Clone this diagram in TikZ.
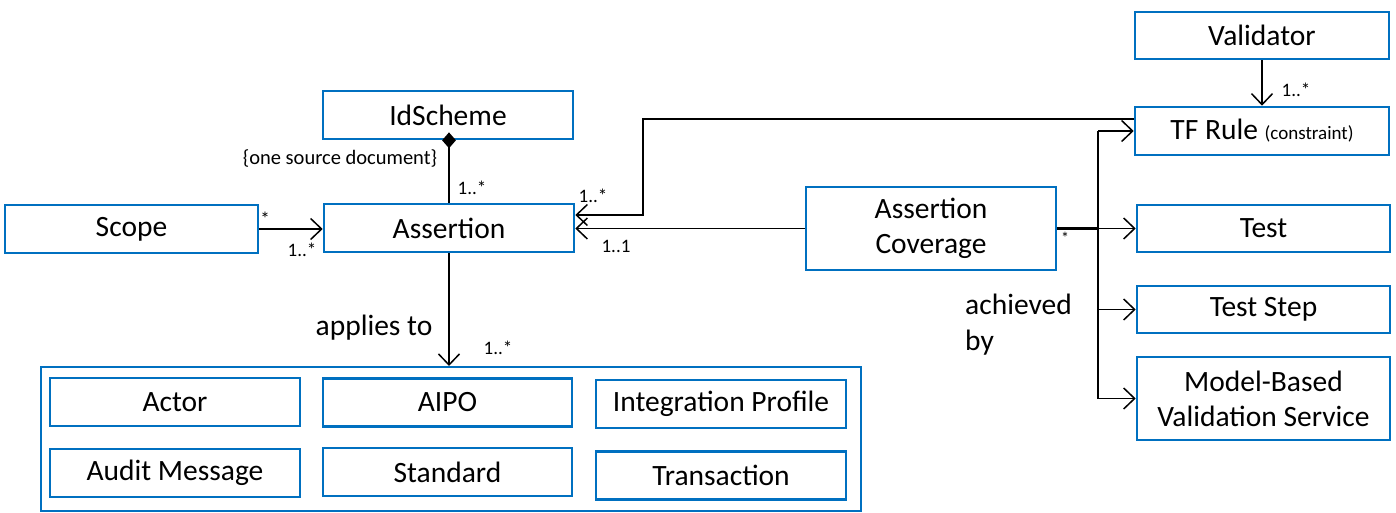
\documentclass[tikz,border=0pt]{standalone}
\usepackage{fontspec}
\setmainfont{Carlito}
\usetikzlibrary{arrows.meta,shapes.geometric}
\definecolor{boxblue}{HTML}{0070C0}
\tikzset{
  box/.style={draw=boxblue, line width=2.6pt, fill=white, inner sep=2pt,
    align=center, font=\fontsize{29.5}{35}\selectfont},
  conn/.style={draw=black, line width=1.5pt},
  arr/.style={conn, -{Straight Barb[length=11pt,width=21pt,line width=1.5pt]}},
  mult/.style={font=\fontsize{19}{22}\selectfont, inner sep=0pt},
  lbl/.style={font=\fontsize{29.5}{36}\selectfont, inner sep=0pt}
}
\begin{document}
\begin{tikzpicture}[x=1pt,y=-1pt]
\useasboundingbox (0,0) rectangle (1396,513);

% grouping frame for the targets of "applies to"
\node[draw=boxblue, line width=2pt, minimum width=820pt, minimum height=144pt,
      inner sep=0pt] (frame) at (451,439) {};

% classes
\node[box, minimum width=254pt, minimum height=47pt] (validator) at (1262,35.5) {Validator};
\node[box, minimum width=254pt, minimum height=48pt] (tfrule) at (1262,131)
  {TF Rule {\fontsize{19}{22}\selectfont (constraint)}};
\node[box, minimum width=253pt, minimum height=47pt] (test) at (1263.5,228.5) {Test};
\node[box, minimum width=253pt, minimum height=47pt] (teststep) at (1263.5,309.5) {Test Step};
\node[box, minimum width=253pt, minimum height=83pt] (mbvs) at (1263.5,398.5)
  {Model-Based\\Validation Service};
\node[box, minimum width=250pt, minimum height=83pt] (coverage) at (931,228.5)
  {Assertion\\Coverage};
\node[box, minimum width=250pt, minimum height=48pt] (assertion) at (449,228) {Assertion};
\node[box, minimum width=250pt, minimum height=48pt] (idscheme) at (448,115) {IdScheme};
\node[box, minimum width=253pt, minimum height=48pt] (scope) at (131.5,229) {Scope};

% contents of the frame
\node[box, minimum width=250pt, minimum height=48pt] (actor) at (175,402) {Actor};
\node[box, minimum width=249pt, minimum height=48pt] (aipo) at (447.5,402.5) {AIPO};
\node[box, minimum width=250pt, minimum height=48pt] (ip) at (721,404) {Integration Profile};
\node[box, minimum width=250pt, minimum height=48pt] (audit) at (175,473) {Audit Message};
\node[box, minimum width=249pt, minimum height=48pt] (standard) at (447.5,472) {Standard};
\node[box, minimum width=250pt, minimum height=48pt] (transaction) at (721,475.5) {Transaction};

% Scope -> Assertion
\draw[arr] (scope.east) -- (scope.east -| assertion.west);
\node[mult] at (265,219) {*};
\node[mult] at (302,250) {1..*};

% IdScheme composition
\draw[conn] (assertion.north) -- (assertion.north |- idscheme.south);
\node[diamond, fill=black, inner sep=0pt, minimum width=14pt, minimum height=16pt]
  (comp) at (assertion.north |- idscheme.south) {};
\node[font=\fontsize{20.5}{24}\selectfont, inner sep=0pt] at (340,158) {\{one source document\}};
\node[mult] at (472,188) {1..*};

% Assertion applies to frame
\draw[arr] (assertion.south) -- (assertion.south |- frame.north);
\node[lbl] at (374,328) {applies to};
\node[mult] at (498,348) {1..*};

% TF Rule -> Assertion
\coordinate (bendtop) at (643,119);
\coordinate (bendlow) at (643,215);
\draw[arr] (tfrule.west |- bendtop) -- (bendtop) -- (bendlow) -- (bendlow -| assertion.east);
\node[mult] at (593,196) {1..*};

% Assertion Coverage -> Assertion
\draw[arr] (coverage.west) -- (coverage.west -| assertion.east);
\node[mult] at (616,246) {1..1};

% Validator -> TF Rule
\draw[arr] (validator.south) -- (tfrule.north);
\node[mult] at (1296,90) {1..*};

% Assertion Coverage achieved by ...
\coordinate (bus) at (1098,228.5);
\draw[conn, line width=2.4pt] (coverage.east) -- (bus);
\draw[arr] (bus) -- (test.west);
\draw[conn] (bus |- tfrule.west) -- (bus |- mbvs.west);
\draw[arr] (bus |- tfrule.west) -- (tfrule.west);
\draw[arr] (bus |- teststep.west) -- (teststep.west);
\draw[arr] (bus |- mbvs.west) -- (mbvs.west);
\node[mult, font=\fontsize{16}{18}\selectfont] at (1065,238) {*};
\node[lbl, align=left, anchor=north west] at (965,294) {achieved\\by};
\end{tikzpicture}
\end{document}
